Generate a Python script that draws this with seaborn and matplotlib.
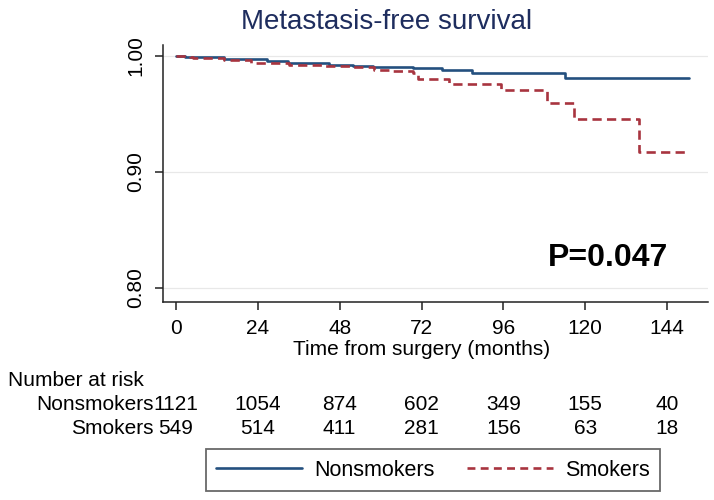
import numpy as np
import pandas as pd
import matplotlib
matplotlib.use("Agg")
import matplotlib.pyplot as plt
import seaborn as sns
from matplotlib.lines import Line2D
from matplotlib.transforms import blended_transform_factory

# ------------------------------------------------------
# Data
# ------------------------------------------------------

nonsmoker_time = [0, 2.6, 10.4, 14, 26.6, 32.8, 45, 52, 57.8, 69.5, 78, 86.7, 114, 150.5]
nonsmoker_surv = [1.0, 0.999, 0.9986, 0.9974, 0.995, 0.9937, 0.992, 0.991, 0.9905,
                  0.989, 0.988, 0.985, 0.981, 0.981]

smoker_time = [0, 4, 5, 14, 22, 27.5, 33, 43, 52, 58, 63.6, 69.5, 71, 80, 95.4,
               108.7, 116.7, 135.9, 150]
smoker_surv = [1.0, 0.999, 0.998, 0.9963, 0.994, 0.9935, 0.992, 0.991, 0.990, 0.988,
               0.9866, 0.985, 0.980, 0.976, 0.970, 0.9595, 0.9457, 0.9172, 0.9172]

risk_times = [0, 24, 48, 72, 96, 120, 144]
risk_nonsmokers = [1121, 1054, 874, 602, 349, 155, 40]
risk_smokers = [549, 514, 411, 281, 156, 63, 18]

groups = ["Nonsmokers", "Smokers"]
colors = ["#24507f", "#a8343f"]

# ------------------------------------------------------
# Figure setup
# ------------------------------------------------------

sns.set_style("white")
plt.rcParams["font.family"] = ["Liberation Sans", "DejaVu Sans"]
plt.rcParams["text.color"] = "black"
plt.rcParams["xtick.color"] = "black"
plt.rcParams["ytick.color"] = "black"
plt.rcParams["axes.labelcolor"] = "black"

fig = plt.figure(figsize=(7.14, 5.0), dpi=100)
ax = fig.add_axes([0.2283, 0.396, 0.7633, 0.514])

df_non = pd.DataFrame({"time": nonsmoker_time, "surv": nonsmoker_surv})
df_smk = pd.DataFrame({"time": smoker_time, "surv": smoker_surv})

sns.lineplot(data=df_non, x="time", y="surv", ax=ax, color=colors[0],
             drawstyle="steps-post", linewidth=1.9, estimator=None)
sns.lineplot(data=df_smk, x="time", y="surv", ax=ax, color=colors[1],
             drawstyle="steps-post", linewidth=1.9, linestyle=(0, (3.5, 2.0)),
             estimator=None)

# ------------------------------------------------------
# Axes styling
# ------------------------------------------------------

ax.set_xlim(-3.8, 156)
ax.set_ylim(0.7877, 1.0092)
ax.set_xticks(risk_times)
ax.set_yticks([0.80, 0.90, 1.00])
ax.set_yticklabels(["0.80", "0.90", "1.00"], rotation=90, va="center")
ax.grid(axis="y", color="#e8e8e8", linewidth=0.9)
ax.grid(axis="x", visible=False)

for side in ["top", "right"]:
    ax.spines[side].set_visible(False)
for side in ["left", "bottom"]:
    ax.spines[side].set_color("#222222")
    ax.spines[side].set_linewidth(1.1)

ax.tick_params(axis="both", which="major", length=6, width=1.1, color="#222222",
               labelsize=15, direction="out", bottom=True, left=True)
ax.tick_params(axis="x", pad=6)
ax.tick_params(axis="y", pad=7)

ax.set_ylabel("")
ax.set_xlabel("Time from surgery (months)", fontsize=15)
ax.xaxis.set_label_coords(0.474, -0.148)

fig.text(387 / 714, 1 - 22 / 500, "Metastasis-free survival", fontsize=20,
         color="#1e2d5e", ha="center", va="center")

ax.text(109, 0.8256, "P=0.047", fontsize=23, fontweight="bold",
        ha="left", va="center")

# ------------------------------------------------------
# Number at risk table
# ------------------------------------------------------

trans = blended_transform_factory(ax.transData, fig.transFigure)
fig.text(8 / 714, 1 - 380 / 500, "Number at risk", fontsize=15, ha="left", va="center")
fig.text(154 / 714, 1 - 404 / 500, "Nonsmokers", fontsize=15, ha="right", va="center")
fig.text(154 / 714, 1 - 428 / 500, "Smokers", fontsize=15, ha="right", va="center")
for t, n1, n2 in zip(risk_times, risk_nonsmokers, risk_smokers):
    ax.text(t, 1 - 404 / 500, str(n1), transform=trans, fontsize=15,
            ha="center", va="center", clip_on=False)
    ax.text(t, 1 - 428 / 500, str(n2), transform=trans, fontsize=15,
            ha="center", va="center", clip_on=False)

# ------------------------------------------------------
# Legend
# ------------------------------------------------------

handles = [
    Line2D([], [], color=colors[0], linewidth=1.9),
    Line2D([], [], color=colors[1], linewidth=1.9, linestyle=(0, (3.0, 2.0))),
]
leg = fig.legend(handles, groups, loc="center", bbox_to_anchor=(433 / 714, 1 - 470 / 500),
                 ncol=2, fontsize=15.5, frameon=True, fancybox=False, handlelength=4.0,
                 handletextpad=0.55, columnspacing=1.5, borderpad=0.5)
leg.get_frame().set_edgecolor("#444444")
leg.get_frame().set_linewidth(1.3)

fig.savefig("out.png", dpi=100)
